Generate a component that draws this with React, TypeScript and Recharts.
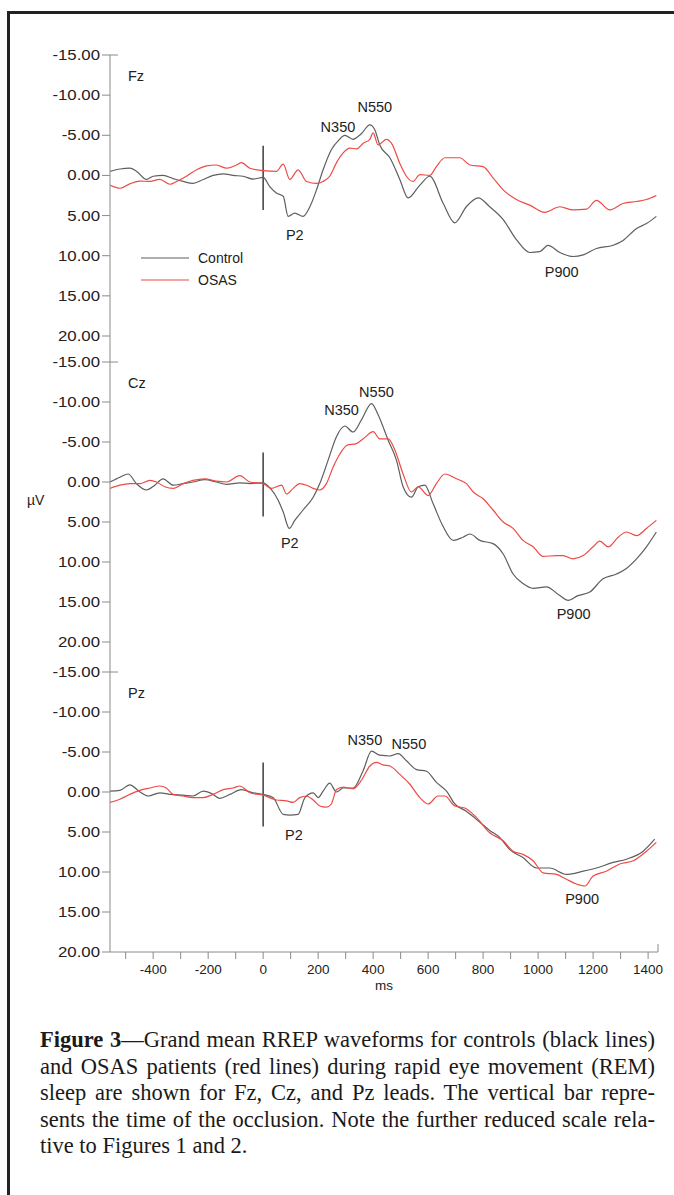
import React from 'react';
import { LineChart, Line, XAxis, YAxis, ReferenceLine, ReferenceDot, Legend } from 'recharts';

type Pt = [number, number];

// ---------- axes ----------
const X_MIN = -557;
const X_MAX = 1436;
const Y_MIN = -15;
const Y_MAX = 20;
const yTicks = [-15, -10, -5, 0, 5, 10, 15, 20];
const xTicks = [-500, -400, -300, -200, -100, 0, 100, 200, 300, 400, 500, 600, 700, 800, 900, 1000, 1100, 1200, 1300, 1400];
const xLabelStep = 200;
const occlusionBar = { ms: 0, from: -3.7, to: 4.3 };

// ---------- series (ms, µV) ----------
const fzControl: Pt[] = [
  [-557, -0.5], [-520, -0.8], [-485, -0.9], [-460, -0.5], [-424, 0.5], [-400, 0.1], [-364, 0], [-327, 0.4],
  [-291, 0.75], [-255, 1.0], [-218, 0.5], [-182, 0], [-145, -0.2], [-109, 0], [-73, 0.1], [-36, 0.45], [0, 0.25],
  [24, 1.4], [48, 2.2], [73, 2.6], [91, 5.1], [115, 4.7], [145, 5.1], [170, 3.9], [194, 1.8], [218, -0.7],
  [248, -3.2], [275, -4.4], [297, -5.0], [327, -4.5], [357, -5.2], [388, -6.3], [406, -5.7], [424, -3.8],
  [461, -2.2], [497, 0.5], [527, 2.8], [570, 1.2], [606, 0.1], [655, 3.5], [697, 5.9], [739, 3.9], [782, 2.8],
  [824, 3.9], [873, 5.5], [921, 8.0], [970, 9.6], [1006, 9.5], [1036, 8.7], [1079, 9.6], [1127, 10.1],
  [1164, 9.9], [1212, 9.1], [1273, 8.7], [1309, 8.1], [1358, 6.6], [1394, 6.0], [1430, 5.1],
];
const fzOsas: Pt[] = [
  [-557, 1.2], [-520, 1.6], [-485, 1.05], [-448, 0.7], [-412, 0.75], [-376, 0.5], [-339, 1.1], [-315, 0.75],
  [-279, 0.1], [-242, -0.7], [-206, -1.2], [-170, -1.3], [-133, -0.9], [-97, -1.3], [-79, -1.6], [-48, -0.9],
  [0, -0.6], [48, -0.5], [73, -1.4], [97, 0.5], [127, -0.7], [158, 0.75], [194, 1.0], [218, 0.75], [242, 0.1],
  [267, -1.6], [291, -2.8], [315, -3.4], [339, -3.3], [364, -4.0], [388, -4.5], [400, -5.3], [418, -3.8],
  [448, -4.5], [467, -4.0], [497, -1.5], [521, 0.1], [545, 0.75], [570, -0.1], [606, 0], [630, -1.1],
  [661, -2.2], [715, -2.2], [752, -1.3], [800, -1.1], [836, 0.3], [873, 1.8], [921, 3.0], [970, 3.7],
  [1024, 4.6], [1079, 3.9], [1127, 4.3], [1176, 4.2], [1212, 3.1], [1261, 4.3], [1309, 3.5], [1358, 3.25],
  [1394, 3.0], [1430, 2.5],
];
const czControl: Pt[] = [
  [-557, 0], [-521, -0.6], [-491, -1.0], [-461, 0.2], [-424, 1.0], [-394, 0.4], [-364, -0.4], [-327, 0.4],
  [-291, 0.2], [-255, 0], [-212, -0.3], [-170, 0], [-133, 0.3], [-85, 0.1], [-48, 0.2], [0, 0.1], [24, 0.7],
  [55, 2.3], [73, 3.75], [95, 5.8], [115, 4.8], [145, 3.5], [182, 1.9], [206, 0.2], [236, -2.7], [267, -5.7],
  [297, -7.0], [327, -6.25], [358, -7.8], [394, -9.8], [418, -8.4], [455, -5.2], [485, -2.7], [509, 0.6],
  [539, 1.9], [564, 0.6], [588, 0.4], [618, 2.7], [655, 5.6], [691, 7.3], [727, 6.9], [752, 6.5], [788, 7.3],
  [836, 7.7], [873, 9.0], [909, 11.5], [945, 12.7], [982, 13.3], [1030, 13.1], [1079, 14.2], [1109, 14.8],
  [1145, 14.2], [1188, 13.75], [1236, 12.1], [1285, 11.5], [1321, 10.8], [1358, 9.6], [1394, 8.1], [1430, 6.25],
];
const czOsas: Pt[] = [
  [-557, 0.8], [-521, 0.4], [-485, 0.2], [-448, 0.2], [-412, -0.2], [-388, 0], [-358, 0.6], [-327, 0.8],
  [-291, 0.2], [-255, -0.2], [-212, -0.4], [-170, -0.1], [-133, 0], [-85, -0.8], [-48, 0], [0, 0.2], [30, 0.8],
  [67, 0.4], [85, 1.5], [109, 0.8], [133, 0.2], [158, 0.4], [182, 0.8], [206, 1.0], [230, 0.2], [255, -1.9],
  [279, -3.5], [305, -4.6], [339, -4.8], [364, -5.4], [400, -6.3], [424, -5.4], [455, -5.4], [479, -4.0],
  [509, -1.0], [539, 1.25], [564, 0.6], [600, 1.7], [630, 0.2], [661, -1.0], [703, -0.4], [739, 0.2],
  [764, 1.25], [800, 2.1], [836, 3.5], [873, 5.0], [909, 5.8], [945, 7.3], [982, 8.1], [1018, 9.3],
  [1067, 9.2], [1091, 9.2], [1127, 9.6], [1164, 9.2], [1200, 8.1], [1224, 7.4], [1255, 8.1], [1291, 6.9],
  [1321, 6.25], [1358, 6.7], [1394, 5.8], [1430, 4.8],
];
const pzControl: Pt[] = [
  [-557, -0.1], [-521, -0.2], [-485, -0.9], [-448, 0], [-418, 0.5], [-376, 0.1], [-339, 0.3], [-291, 0.4],
  [-255, 0.5], [-218, -0.1], [-182, 0.3], [-158, 0.8], [-121, 0.3], [-79, -0.3], [-36, 0.1], [0, 0.3],
  [36, 0.7], [73, 2.8], [97, 2.9], [127, 2.8], [152, 0.7], [182, 0.1], [200, 0.7], [218, -0.1], [242, -1.1],
  [267, 0], [291, -0.5], [327, -0.5], [364, -2.7], [394, -5.1], [424, -4.6], [461, -4.5], [491, -4.8],
  [521, -3.9], [558, -2.8], [594, -2.6], [630, -1.2], [667, -0.1], [697, 1.5], [739, 2.4], [782, 3.6],
  [824, 4.8], [861, 5.7], [897, 7.2], [945, 8.2], [994, 9.5], [1042, 9.5], [1103, 10.3], [1164, 9.9],
  [1212, 9.5], [1273, 8.8], [1321, 8.4], [1382, 7.4], [1424, 5.9],
];
const pzOsas: Pt[] = [
  [-557, 1.3], [-521, 0.9], [-485, 0.3], [-448, -0.2], [-412, -0.5], [-376, -0.75], [-352, -0.5], [-327, 0.3],
  [-291, 0.5], [-255, 0.7], [-218, 0.7], [-182, 0.3], [-145, -0.3], [-109, -0.5], [-85, -0.75], [-48, 0.1],
  [0, 0.4], [48, 1.0], [85, 1.1], [109, 1.3], [133, 0.7], [158, 0.5], [182, 1.0], [206, 1.75], [230, 1.9],
  [248, 1.5], [267, -0.3], [291, -0.6], [327, -0.4], [358, -1.5], [388, -3.25], [412, -3.7], [436, -3.4],
  [461, -3.25], [497, -2.2], [533, -1.0], [570, 0.7], [600, 1.5], [636, 0.5], [661, 0.5], [697, 1.75],
  [733, 2.0], [776, 3.2], [824, 5.1], [873, 6.1], [909, 7.4], [945, 7.8], [982, 8.6], [1018, 10.1],
  [1067, 10.3], [1103, 10.9], [1139, 11.5], [1170, 11.75], [1200, 10.5], [1248, 9.9], [1297, 9.0],
  [1346, 8.6], [1394, 7.4], [1430, 6.3],
];

// ---------- component labels (label, ms, µV) ----------
const fzPeaks: [string, number, number][] = [['N350', 272, -6.1], ['N550', 406, -8.5], ['P2', 115, 7.4], ['P900', 1086, 12.0]];
const czPeaks: [string, number, number][] = [['N350', 285, -9.0], ['N550', 412, -11.3], ['P2', 97, 7.6], ['P900', 1129, 16.5]];
const pzPeaks: [string, number, number][] = [['N350', 370, -6.5], ['N550', 530, -6.0], ['P2', 112, 5.3], ['P900', 1160, 13.3]];

const seriesNames = ['Control', 'OSAS'];
const leadNames = ['Fz', 'Cz', 'Pz'];

// ---------- styles ----------
const FONT = '"Liberation Sans", Arial, Helvetica, sans-serif';
const SERIF = '"Liberation Serif", "Times New Roman", Times, serif';
const AXIS = '#8a8a8a';
const TEXT = '#222';
const C_CONTROL = '#5e5e5e';
const C_OSAS = '#ee4a44';

const toRows = (pts: Pt[]) => pts.map(([ms, uv]) => ({ ms, uv }));

const YTick = (props: any) => {
  const { x, y, payload } = props;
  return (
    <text
      x={0}
      y={0}
      dy="0.36em"
      transform={`translate(${x},${y}) scale(1.2,1)`}
      textAnchor="end"
      fontSize={14}
      fill={TEXT}
      fontFamily={FONT}
    >
      {Number(payload.value).toFixed(2)}
    </text>
  );
};

const LegendBox = (props: any) => {
  const payload = props.payload || [];
  return (
    <div style={{ fontFamily: FONT, fontSize: 14, color: TEXT }}>
      {payload.map((e: any) => (
        <div key={e.value} style={{ display: 'flex', alignItems: 'center', height: 22 }}>
          <svg width={48} height={4} style={{ display: 'block' }}>
            <line x1={0} y1={2} x2={48} y2={2} stroke={e.color} strokeWidth={1.2} />
          </svg>
          <span style={{ marginLeft: 9, lineHeight: '22px' }}>{e.value}</span>
        </div>
      ))}
    </div>
  );
};

type PanelProps = {
  lead: string;
  control: Pt[];
  osas: Pt[];
  peaks: [string, number, number][];
  top: number;
  plotHeight: number;
  padBottom: number;
  showX: boolean;
  showLegend: boolean;
};

const MARGIN_TOP = 20;

const Panel = ({ lead, control, osas, peaks, top, plotHeight, padBottom, showX, showLegend }: PanelProps) => {
  const xAxisH = showX ? 30 : 0;
  const bottomM = showX ? 28 : 6;
  const height = MARGIN_TOP + plotHeight + padBottom + xAxisH + bottomM;
  return (
    <div style={{ position: 'absolute', left: 0, top: top - MARGIN_TOP, width: 674, height }}>
      <LineChart width={674} height={height} margin={{ top: MARGIN_TOP, right: 16, bottom: bottomM, left: 50 }}>
        <XAxis
          type="number"
          dataKey="ms"
          domain={[X_MIN, X_MAX]}
          allowDataOverflow
          ticks={xTicks}
          interval={0}
          hide={!showX}
          height={30}
          stroke={AXIS}
          tickSize={7}
          tickMargin={5}
          tick={{ fontSize: 13.5, fill: TEXT, fontFamily: FONT }}
          tickFormatter={(v: number) => (v % xLabelStep === 0 ? String(v) : '')}
          label={showX ? { value: 'ms', position: 'bottom', offset: -2, fontSize: 13.5, fill: TEXT, fontFamily: FONT } : undefined}
        />
        <YAxis
          type="number"
          domain={[Y_MIN, Y_MAX]}
          allowDataOverflow
          reversed
          ticks={yTicks}
          interval={0}
          width={60}
          padding={{ top: 0, bottom: padBottom }}
          stroke={AXIS}
          tickSize={8}
          tickMargin={2}
          tick={<YTick />}
        />
        <ReferenceLine
          segment={[{ x: X_MIN, y: Y_MIN }, { x: X_MIN + 29, y: Y_MIN }]}
          stroke={AXIS}
          ifOverflow="visible"
        />
        {showX && (
          <ReferenceLine
            segment={[{ x: X_MAX, y: Y_MAX - 1 }, { x: X_MAX, y: Y_MAX }]}
            stroke={AXIS}
            ifOverflow="visible"
          />
        )}
        <ReferenceLine
          segment={[{ x: occlusionBar.ms, y: occlusionBar.from }, { x: occlusionBar.ms, y: occlusionBar.to }]}
          stroke="#4a4a4a"
          strokeWidth={1.6}
        />
        <Line
          data={toRows(control)}
          dataKey="uv"
          name={seriesNames[0]}
          type="monotone"
          stroke={C_CONTROL}
          strokeWidth={1.2}
          dot={false}
          activeDot={false}
          isAnimationActive={false}
        />
        <Line
          data={toRows(osas)}
          dataKey="uv"
          name={seriesNames[1]}
          type="monotone"
          stroke={C_OSAS}
          strokeWidth={1.2}
          dot={false}
          activeDot={false}
          isAnimationActive={false}
        />
        {peaks.map(([label, ms, uv]) => (
          <ReferenceDot
            key={label}
            x={ms}
            y={uv}
            r={0}
            fill="none"
            stroke="none"
            ifOverflow="visible"
            label={{ value: label, position: 'center', fontSize: 14.5, fill: TEXT, fontFamily: FONT }}
          />
        ))}
        {showLegend && (
          <Legend
            layout="vertical"
            align="center"
            verticalAlign="middle"
            content={<LegendBox />}
            wrapperStyle={{ position: 'absolute', left: 141, top: 212, width: 'auto' }}
          />
        )}
      </LineChart>
      <div
        style={{
          position: 'absolute',
          left: 128,
          top: MARGIN_TOP + 13,
          fontFamily: FONT,
          fontSize: 14.5,
          color: TEXT,
          lineHeight: '17px',
        }}
      >
        {lead}
      </div>
    </div>
  );
};

export default function App() {
  const lineStyle: React.CSSProperties = {
    textAlign: 'justify',
    textAlignLast: 'justify',
    whiteSpace: 'nowrap',
    height: 26.5,
  };
  return (
    <div
      style={{
        position: 'absolute',
        left: 0,
        top: 0,
        width: 674,
        height: 1195,
        overflow: 'hidden',
        background: '#fff',
      }}
    >
      <div
        style={{
          position: 'absolute',
          left: 7,
          top: 11,
          width: 700,
          height: 1300,
          borderLeft: '3px solid #222',
          borderTop: '3px solid #222',
        }}
      />
      <Panel lead={leadNames[0]} control={fzControl} osas={fzOsas} peaks={fzPeaks} top={55} plotHeight={281} padBottom={26} showX={false} showLegend />
      <Panel lead={leadNames[1]} control={czControl} osas={czOsas} peaks={czPeaks} top={362} plotHeight={280} padBottom={30} showX={false} showLegend={false} />
      <Panel lead={leadNames[2]} control={pzControl} osas={pzOsas} peaks={pzPeaks} top={672} plotHeight={280} padBottom={0} showX showLegend={false} />
      <div
        style={{
          position: 'absolute',
          left: 27,
          top: 492,
          fontFamily: FONT,
          fontSize: 14,
          color: TEXT,
        }}
      >
        µV
      </div>
      <div
        style={{
          position: 'absolute',
          left: 40,
          top: 1027,
          width: 615,
          fontFamily: SERIF,
          fontSize: 22.5,
          lineHeight: '26.5px',
          color: '#1a1a1a',
        }}
      >
        <div style={lineStyle}>
          <b>Figure 3</b>—Grand mean RREP waveforms for controls (black lines)
        </div>
        <div style={lineStyle}>and OSAS patients (red lines) during rapid eye movement (REM)</div>
        <div style={lineStyle}>sleep are shown for Fz, Cz, and Pz leads. The vertical bar repre-</div>
        <div style={lineStyle}>sents the time of the occlusion. Note the further reduced scale rela-</div>
        <div style={{ height: 26.5, whiteSpace: 'nowrap' }}>tive to Figures 1 and 2.</div>
      </div>
    </div>
  );
}
